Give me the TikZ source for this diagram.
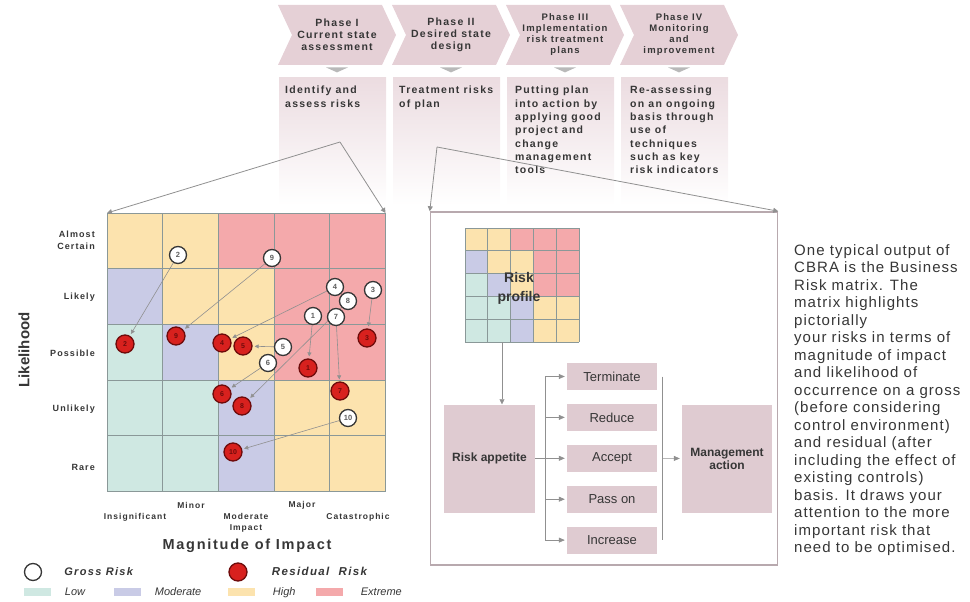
\documentclass[tikz,border=0pt]{standalone}
\usepackage{fontspec}
\setmainfont{Liberation Sans}
\newfontfamily\spaced[LetterSpace=12]{Liberation Sans}
\newfontfamily\notefont[LetterSpace=7]{Liberation Sans}
\usetikzlibrary{shapes.symbols, shapes.geometric, arrows.meta, positioning, calc, backgrounds}

\definecolor{lowc}{HTML}{CFE8E2}
\definecolor{modc}{HTML}{C9CBE6}
\definecolor{highc}{HTML}{FCE3AE}
\definecolor{extc}{HTML}{F4A9AB}
\definecolor{gridc}{HTML}{8A9898}
\definecolor{phasec}{HTML}{E5D0D6}
\definecolor{boxc}{HTML}{DFCBD1}
\definecolor{panelc}{HTML}{B8A9AE}
\definecolor{residc}{HTML}{D8211E}
\definecolor{residd}{HTML}{6E0B0B}
\definecolor{inkc}{HTML}{363636}
\definecolor{linkc}{HTML}{909090}

% 5x5 risk grid: origin x, origin y, cell size, line width
\newcommand\riskgrid[4]{%
  \foreach \r/\cells in {0/{highc,highc,extc,extc,extc},1/{modc,highc,highc,extc,extc},2/{lowc,modc,highc,extc,extc},3/{lowc,lowc,modc,highc,highc},4/{lowc,lowc,modc,highc,highc}}
    \foreach \cc [count=\c from 0] in \cells
      \fill[fill=\cc] ({#1+\c*#3},{#2+\r*#3}) rectangle ++(#3,#3);
  \foreach \k in {0,...,5} {
    \draw[gridc, line width=#4] ({#1+\k*#3},#2) -- ++(0,{5*#3});
    \draw[gridc, line width=#4] (#1,{#2+\k*#3}) -- ++({5*#3},0);
  }
}

\begin{document}
\begin{tikzpicture}[
    x=1pt, y=-1pt,
    phase/.style={signal, signal from=west, signal to=east, signal pointer angle=130, fill=phasec, minimum width=118pt, minimum height=60pt, inner sep=1pt, align=center, text=inkc, font=\spaced\bfseries\fontsize{10.5}{12}\selectfont},
    dropmark/.style={isosceles triangle, isosceles triangle stretches, shape border rotate=-90, minimum width=22pt, minimum height=5pt, inner sep=0, fill=gray!55},
    fadecol/.style={anchor=north west, minimum width=107pt, minimum height=128pt, inner sep=0, top color=phasec!75, bottom color=white},
    desc/.style={anchor=north west, align=left, inner sep=0, text=inkc, font=\spaced\bfseries\fontsize{10.5}{13.3}\selectfont},
    rowlab/.style={anchor=east, align=right, inner sep=0, text=inkc, font=\spaced\bfseries\fontsize{9}{12}\selectfont},
    collab/.style={align=center, inner sep=0, text=inkc, font=\spaced\bfseries\fontsize{8.5}{11}\selectfont},
    gross/.style={circle, draw=inkc, line width=1.3pt, fill=white, minimum size=17pt, inner sep=0, text=inkc!80, font=\bfseries\fontsize{7.5}{8}\selectfont},
    resid/.style={circle, draw=residd, line width=1.3pt, fill=residc, minimum size=18pt, inner sep=0, text=residd, font=\bfseries\fontsize{7}{8}\selectfont},
    move/.style={draw=linkc, line width=0.6pt, -{Triangle[length=4pt, width=4pt]}, shorten >=2pt},
    feed/.style={draw=linkc, line width=0.8pt, -{Triangle[length=5pt, width=5pt]}},
    legtext/.style={anchor=west, inner sep=0, text height=8pt, text depth=2pt, text=inkc, font=\spaced\bfseries\itshape\fontsize{11}{12}\selectfont},
    swatch/.style={minimum width=27pt, minimum height=8pt, inner sep=0},
    swtext/.style={anchor=west, inner sep=0, text height=8pt, text depth=2pt, text=inkc, font=\itshape\fontsize{11}{12}\selectfont},
    panel/.style={draw=panelc, line width=1.5pt, minimum width=347pt, minimum height=353pt, inner sep=0},
    optbox/.style={fill=boxc, minimum width=90pt, minimum height=27pt, inner sep=0, text=inkc, font=\fontsize{13}{15}\selectfont},
    actbox/.style={fill=boxc, minimum width=91pt, minimum height=108pt, inner sep=0, align=center, text=inkc, font=\bfseries\fontsize{12}{13}\selectfont}
]
\useasboundingbox (0,0) rectangle (970,602);

    % Phases
    \node[phase] (ph1) at (337,35) {Phase I\\Current state\\assessment};
    \node[phase] (ph2) at (451,35) {Phase II\\Desired state\\design};
    \node[phase, font=\spaced\bfseries\fontsize{9.5}{11}\selectfont] (ph3) at (565,35) {Phase III\\Implementation\\risk treatment\\plans};
    \node[phase, font=\spaced\bfseries\fontsize{9.5}{11}\selectfont] (ph4) at (679,35) {Phase IV\\Monitoring\\and\\improvement};
    \foreach \i in {1,...,4}
        \node[dropmark, below=2pt of ph\i] (dm\i) {};

    % Phase details
    \node[fadecol] (col1) at (279,77) {};
    \node[fadecol] (col2) at (393,77) {};
    \node[fadecol] (col3) at (507,77) {};
    \node[fadecol] (col4) at (621,77) {};
    \node[desc] (d1) at (285,86) {Identify and\\assess risks};
    \node[desc] (d2) at (399,86) {Treatment risks\\of plan};
    \node[desc] (d3) at (515,86) {Putting plan\\into action by\\applying good\\project and\\change\\management\\tools};
    \node[desc] (d4) at (630,86) {Re-assessing\\on an ongoing\\basis through\\use of\\techniques\\such as key\\risk indicators};

    % Business risk matrix
    \begin{scope}[on background layer]
        \riskgrid{107}{213}{55.7}{1pt}
        \riskgrid{465}{228}{22.8}{0.8pt}
    \end{scope}
    \coordinate (mtl) at (107,213);
    \coordinate (mtr) at (385.5,213);

    \foreach \t/\y [count=\i] in {{Almost\\Certain}/240, Likely/297, Possible/353, Unlikely/409, Rare/467}
        \node[rowlab] (row\i) at (95,\y) {\t};
    \node[rotate=90, text=inkc, font=\bfseries\fontsize{15}{16}\selectfont] (ylab) at (24,350) {Likelihood};

    \node[collab] (c1) at (135,517) {Insignificant};
    \node[collab] (c2) at (191,505) {Minor};
    \node[collab] (c3) at (246,523) {Moderate\\Impact};
    \node[collab] (c4) at (302,505) {Major};
    \node[collab] (c5) at (358,517) {Catastrophic};
    \node[text=inkc, font=\spaced\bfseries\fontsize{14.5}{16}\selectfont] (xlab) at (247,546) {Magnitude of Impact};

    % Gross and residual risks
    \foreach \n/\x/\y in {1/313/316, 2/178/255, 3/373/290, 4/335/287, 5/283/347, 6/268/363, 7/336/317, 8/348/301, 9/272/258, 10/348/418}
        \node[gross] (g\n) at (\x,\y) {\n};
    \foreach \n/\x/\y in {1/308/368, 2/125/344, 3/367/338, 4/222/343, 5/243/346, 6/222/394, 7/340/391, 8/242/406, 9/176/336, 10/233/452}
        \node[resid] (r\n) at (\x,\y) {\n};
    \begin{scope}[on background layer]
        \foreach \n in {1,...,10}
            \draw[move] (g\n) -- (r\n);
    \end{scope}

    % Legend
    \node[gross] (lg) at (33,572) {};
    \node[legtext, right=22pt of lg] (lgt) {Gross Risk};
    \node[resid] (lr) at (238,572) {};
    \node[legtext, right=24pt of lr, font=\spaced\bfseries\itshape\fontsize{11.5}{12}\selectfont] (lrt) {Residual~ Risk};
    \node[swatch, fill=lowc] (sw1) at (37,592) {};
    \node[swtext, right=14pt of sw1] (sw1t) {Low};
    \node[swatch, fill=modc] (sw2) at (127,592) {};
    \node[swtext, right=14pt of sw2] (sw2t) {Moderate};
    \node[swatch, fill=highc] (sw3) at (241,592) {};
    \node[swtext, right=18pt of sw3] (sw3t) {High};
    \node[swatch, fill=extc] (sw4) at (329,592) {};
    \node[swtext, right=18pt of sw4] (sw4t) {Extreme};

    % Risk treatment panel
    \node[panel] (panel) at (604,388.5) {};
    \node[align=center, text=inkc, font=\bfseries\fontsize{14}{19}\selectfont] (prof) at (519,288) {Risk\\profile};
    \coordinate (pbot) at (502,342);
    \node[actbox] (app) at (489.5,458.5) {Risk appetite};
    \node[optbox] (term) at (612,376.5) {Terminate};
    \node[optbox, below=13.5pt of term] (redu) {Reduce};
    \node[optbox, below=13.5pt of redu] (acc) {Accept};
    \node[optbox, below=13.5pt of acc] (pass) {Pass on};
    \node[optbox, below=13.5pt of pass] (incr) {Increase};
    \node[actbox, minimum width=90pt] (mgmt) at (727,458.5) {Management\\action};

    \draw[feed, line width=0.6pt] (pbot) -- (pbot |- app.north);
    \coordinate (split) at ($(app.east)+(10,0)$);
    \draw[draw=linkc, line width=0.6pt] (app.east) -- (split);
    \draw[draw=linkc, line width=0.6pt] (split |- term) -- (split |- incr);
    \foreach \b in {term, redu, acc, pass, incr}
        \draw[move, -{Triangle[length=6pt, width=5pt]}] (split |- \b.west) -- (\b.west);
    \coordinate (join) at ($(acc.east)+(5,0)$);
    \draw[draw=linkc, line width=0.6pt] (join |- term) -- (join |- incr);
    \draw[move, -{Triangle[length=6pt, width=5pt]}] (join) -- (mgmt.west);

    % Feeds from the phases
    \coordinate (apex1) at (340,142);
    \coordinate (apex2) at (437,147);
    \draw[feed] (apex1) -- (mtl);
    \draw[feed] (apex1) -- (mtr);
    \draw[feed] (apex2) -- (panel.north west);
    \draw[feed] (apex2) -- (panel.north east);

    % Note
    \node[anchor=north west, align=left, inner sep=0, text=inkc, font=\notefont\fontsize{15}{17.5}\selectfont] (note) at (794,244) {One typical output of\\CBRA is the Business\\Risk matrix. The\\matrix highlights\\pictorially\\your risks in terms of\\magnitude of impact\\and likelihood of\\occurrence on a gross\\(before considering\\control environment)\\and residual (after\\including the effect of\\existing controls)\\basis. It draws your\\attention to the more\\important risk that\\need to be optimised.};

\end{tikzpicture}
\end{document}
